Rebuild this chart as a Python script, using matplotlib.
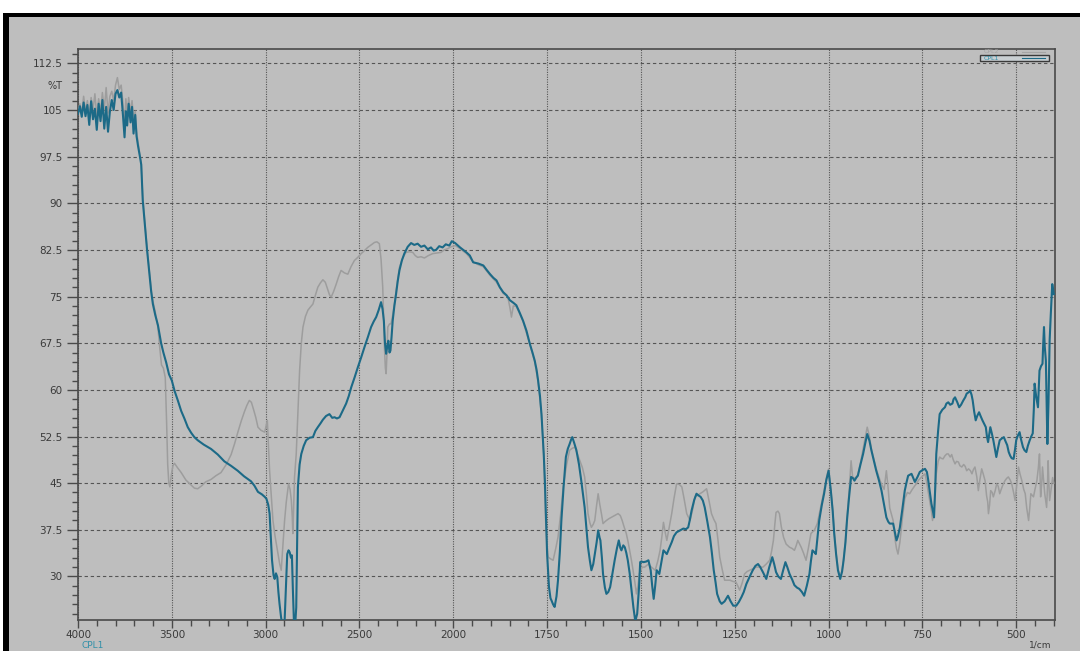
import numpy as np
import matplotlib
matplotlib.use("Agg")
import matplotlib.pyplot as plt
from matplotlib.patches import Rectangle
from matplotlib.lines import Line2D
from matplotlib.ticker import FixedLocator, FormatStrFormatter

# CPL1 (teal) spectrum: wavenumber (1/cm), %T
cpl1_wn = [4000, 3990, 3980, 3970, 3960, 3950, 3940, 3930, 3920, 3910, 3900, 3890, 3880, 3870, 3860,
           3850, 3840, 3830, 3820, 3810, 3800, 3790, 3780, 3770, 3760, 3752, 3745, 3738, 3730, 3720,
           3712, 3704, 3695, 3688, 3680, 3670, 3663, 3655, 3645, 3632, 3619, 3610, 3601, 3588, 3574,
           3557, 3545, 3530, 3515, 3500, 3485, 3468, 3450, 3433, 3415, 3397, 3380, 3362, 3330, 3291,
           3255, 3220, 3185, 3149, 3115, 3078, 3060, 3041, 3020, 3005, 2996, 2986, 2979, 2972, 2966,
           2958, 2952, 2945, 2938, 2932, 2926, 2918, 2913, 2905, 2899, 2892, 2885, 2878, 2872, 2865,
           2860, 2855, 2849, 2842, 2837, 2832, 2828, 2819, 2810, 2797, 2784, 2766, 2748, 2735, 2722,
           2708, 2695, 2678, 2660, 2645, 2633, 2620, 2606, 2590, 2571, 2557, 2544, 2526, 2509, 2490,
           2473, 2455, 2438, 2424, 2411, 2398, 2385, 2377, 2370, 2364, 2358, 2352, 2346, 2340, 2335,
           2329, 2323, 2314, 2305, 2296, 2287, 2274, 2261, 2243, 2225, 2208, 2190, 2172, 2154, 2136,
           2119, 2105, 2092, 2075, 2057, 2040, 2021, 2008, 1995, 1982, 1965, 1956, 1947, 1933, 1920,
           1910, 1902, 1893, 1885, 1876, 1867, 1858, 1849, 1840, 1832, 1823, 1814, 1805, 1796, 1789,
           1783, 1778, 1774, 1769, 1765, 1762, 1759, 1756, 1754, 1752, 1750, 1745, 1741, 1738, 1734,
           1730, 1725, 1721, 1716, 1712, 1706, 1700, 1695, 1690, 1686, 1683, 1678, 1672, 1665, 1659,
           1654, 1650, 1645, 1641, 1636, 1632, 1627, 1623, 1618, 1614, 1610, 1608, 1604, 1601, 1596,
           1592, 1587, 1582, 1576, 1570, 1564, 1559, 1555, 1552, 1547, 1543, 1539, 1535, 1530, 1526,
           1520, 1515, 1510, 1505, 1502, 1499, 1493, 1486, 1480, 1474, 1470, 1466, 1462, 1458, 1451,
           1445, 1440, 1431, 1425, 1418, 1412, 1405, 1396, 1387, 1380, 1374, 1370, 1365, 1358, 1352,
           1346, 1341, 1335, 1330, 1323, 1316, 1311, 1306, 1301, 1297, 1290, 1285, 1277, 1268, 1261,
           1254, 1246, 1239, 1232, 1226, 1219, 1210, 1202, 1195, 1188, 1182, 1175, 1166, 1158, 1150,
           1145, 1140, 1134, 1127, 1121, 1115, 1110, 1104, 1097, 1091, 1084, 1078, 1071, 1065, 1058,
           1051, 1047, 1043, 1038, 1034, 1030, 1025, 1018, 1012, 1006, 1000, 994, 989, 985, 980,
           975, 969, 964, 960, 955, 951, 945, 940, 935, 931, 926, 922, 915, 908, 902,
           897, 891, 886, 880, 873, 866, 859, 852, 846, 841, 837, 828, 823, 819, 815,
           810, 803, 797, 792, 788, 779, 774, 770, 763, 757, 750, 743, 738, 735, 730,
           726, 722, 719, 716, 713, 708, 704, 697, 690, 686, 681, 676, 670, 667, 663,
           657, 652, 647, 641, 636, 632, 627, 623, 619, 616, 612, 608, 604, 599, 595,
           590, 585, 581, 578, 575, 572, 569, 565, 561, 557, 553, 549, 544, 538, 533,
           529, 524, 520, 516, 512, 507, 503, 500, 496, 491, 487, 482, 478, 473, 469,
           464, 460, 456, 453, 451, 447, 442, 440, 438, 434, 430, 428, 426, 424, 421,
           419, 417, 414, 411, 408, 404, 400]
cpl1_t = [104.4, 105.6, 103.9, 106.2, 104.0, 105.8, 102.6, 106.4, 103.5, 105.2, 101.8, 106.0, 103.2, 106.6, 102.0,
          105.5, 101.5, 104.8, 106.6, 105.0, 107.6, 108.2, 107.0, 107.8, 104.0, 100.6, 104.8, 102.5, 106.0, 103.0,
          105.5, 101.2, 104.2, 100.8, 99.2, 97.5, 96.2, 90.5, 87.1, 82.5, 78.5, 75.8, 73.8, 72.0, 70.4,
          67.5, 66.0, 64.4, 62.5, 61.5, 59.8, 58.3, 56.6, 55.4, 54.0, 53.1, 52.4, 51.9, 51.2, 50.5,
          49.6, 48.5, 47.8, 47.0, 46.1, 45.3, 44.6, 43.6, 43.2, 42.8, 42.5, 41.5, 40.1, 36.0, 32.6,
          30.2, 29.6, 30.5, 29.9, 27.5, 25.6, 23.5, 22.5, 22.5, 22.8, 28.0, 33.6, 34.2, 33.9, 33.0,
          33.4, 28.0, 22.5, 22.5, 25.0, 36.0, 44.4, 48.0, 49.7, 51.0, 51.9, 52.3, 52.4, 53.4, 54.0,
          54.6, 55.2, 55.8, 56.1, 55.5, 55.6, 55.4, 55.6, 56.6, 57.8, 59.0, 60.4, 62.0, 63.6, 65.3,
          66.9, 68.5, 70.1, 71.0, 71.7, 72.8, 74.1, 73.0, 71.1, 67.5, 65.8, 67.0, 67.9, 66.0, 66.3,
          68.5, 71.1, 73.5, 75.4, 77.5, 79.2, 80.8, 81.9, 83.0, 83.6, 83.3, 83.5, 83.0, 83.2, 82.6,
          82.9, 82.4, 82.5, 83.1, 82.9, 83.4, 83.2, 83.9, 83.6, 82.9, 82.1, 81.6, 80.5, 80.3, 80.0,
          79.2, 78.6, 78.0, 77.6, 76.5, 75.7, 75.2, 74.4, 74.0, 73.6, 72.4, 71.1, 69.5, 67.4, 66.0,
          64.7, 63.2, 61.5, 59.0, 56.1, 53.0, 49.7, 45.5, 41.7, 37.5, 33.6, 28.3, 26.5, 26.1, 25.5,
          25.1, 26.8, 29.4, 34.0, 39.0, 44.5, 49.2, 50.5, 51.3, 52.0, 52.4, 51.5, 50.3, 48.0, 45.4,
          43.0, 41.1, 37.5, 34.7, 32.5, 31.0, 32.0, 33.6, 35.5, 37.4, 36.2, 35.8, 33.0, 30.4, 28.2,
          27.2, 27.5, 28.3, 30.5, 32.6, 34.5, 35.8, 34.6, 34.2, 35.0, 34.7, 33.8, 32.6, 30.5, 28.3,
          25.0, 22.8, 24.0, 28.3, 32.3, 32.4, 32.3, 32.4, 32.6, 31.0, 28.5, 26.4, 28.5, 31.0, 30.4,
          32.5, 34.2, 33.6, 34.5, 35.5, 36.5, 37.1, 37.4, 37.7, 37.6, 37.9, 39.0, 40.6, 42.3, 43.3,
          43.0, 42.8, 42.2, 41.1, 38.8, 36.3, 33.8, 31.0, 29.0, 27.2, 26.0, 25.6, 26.0, 26.9, 26.0,
          25.3, 25.3, 25.9, 26.7, 27.5, 28.8, 30.0, 31.0, 31.7, 32.0, 31.5, 30.7, 29.6, 31.5, 33.1,
          32.0, 30.7, 30.0, 29.6, 31.0, 32.3, 31.5, 30.4, 29.5, 28.6, 28.2, 28.0, 27.5, 26.9, 28.5,
          30.4, 32.5, 34.2, 33.9, 33.6, 36.0, 39.0, 41.5, 43.3, 45.5, 47.0, 43.8, 40.5, 36.9, 33.6,
          31.0, 29.6, 30.8, 32.6, 35.5, 39.0, 43.0, 46.0, 45.8, 45.4, 45.9, 46.2, 48.0, 49.7, 51.5,
          52.9, 51.8, 50.3, 48.8, 47.0, 45.5, 43.8, 41.5, 39.5, 38.8, 38.5, 38.5, 37.0, 35.8, 36.5,
          37.9, 41.0, 43.8, 45.2, 46.2, 46.5, 45.8, 45.2, 46.0, 46.8, 47.1, 47.3, 46.8, 45.7, 43.5,
          41.7, 40.5, 39.5, 44.0, 49.7, 53.5, 56.1, 56.8, 57.2, 57.8, 58.0, 57.6, 57.8, 58.5, 58.8,
          58.0, 57.2, 57.6, 58.3, 58.8, 59.4, 59.6, 59.9, 59.2, 58.3, 56.5, 55.1, 55.8, 56.4, 55.8,
          55.1, 54.5, 54.0, 52.5, 51.6, 52.8, 54.0, 53.0, 51.9, 50.5, 49.2, 50.5, 51.9, 52.2, 52.4,
          51.8, 51.1, 50.0, 49.4, 49.0, 48.9, 50.5, 51.9, 52.6, 53.2, 52.0, 50.8, 50.3, 50.0, 51.0,
          51.9, 52.5, 53.0, 57.0, 61.0, 59.0, 57.2, 60.0, 63.1, 63.8, 64.2, 67.5, 70.1, 67.0, 64.7,
          58.0, 51.3, 58.0, 67.9, 72.0, 77.0, 75.4]

# CPL2 (gray) spectrum
cpl2_wn = [4000, 3990, 3980, 3970, 3960, 3950, 3940, 3930, 3920, 3910, 3900, 3890, 3880, 3870, 3860,
           3850, 3840, 3830, 3820, 3810, 3800, 3790, 3780, 3770, 3760, 3752, 3745, 3738, 3730, 3720,
           3712, 3704, 3695, 3688, 3680, 3670, 3663, 3655, 3645, 3632, 3619, 3610, 3601, 3588, 3574,
           3565, 3555, 3545, 3535, 3528, 3522, 3516, 3510, 3502, 3494, 3486, 3470, 3450, 3425, 3397,
           3380, 3362, 3340, 3320, 3291, 3265, 3238, 3210, 3184, 3166, 3149, 3130, 3113, 3100, 3087,
           3076, 3064, 3052, 3041, 3025, 3005, 2991, 2985, 2979, 2970, 2961, 2950, 2934, 2925, 2917,
           2908, 2899, 2890, 2878, 2870, 2863, 2858, 2855, 2850, 2846, 2837, 2828, 2819, 2810, 2801,
           2788, 2775, 2762, 2748, 2735, 2722, 2708, 2695, 2682, 2668, 2660, 2651, 2638, 2624, 2611,
           2598, 2580, 2562, 2545, 2527, 2509, 2491, 2473, 2456, 2438, 2420, 2407, 2394, 2385, 2376,
           2371, 2367, 2362, 2358, 2353, 2349, 2340, 2332, 2323, 2314, 2300, 2287, 2270, 2252, 2234,
           2216, 2203, 2190, 2172, 2154, 2132, 2110, 2088, 2066, 2048, 2030, 2012, 1995, 1982, 1965,
           1947, 1933, 1920, 1902, 1885, 1867, 1855, 1849, 1845, 1840, 1832, 1814, 1796, 1783, 1774,
           1765, 1759, 1754, 1750, 1747, 1740, 1734, 1727, 1721, 1714, 1707, 1698, 1690, 1683, 1676,
           1670, 1663, 1656, 1650, 1645, 1641, 1636, 1632, 1627, 1623, 1618, 1614, 1610, 1605, 1601,
           1596, 1592, 1585, 1579, 1570, 1561, 1555, 1550, 1545, 1539, 1534, 1530, 1525, 1521, 1516,
           1512, 1508, 1504, 1497, 1490, 1480, 1472, 1462, 1455, 1449, 1444, 1440, 1435, 1431, 1425,
           1418, 1412, 1405, 1398, 1391, 1385, 1378, 1373, 1369, 1362, 1356, 1350, 1343, 1335, 1325,
           1318, 1312, 1306, 1300, 1295, 1290, 1283, 1277, 1270, 1263, 1255, 1247, 1242, 1237, 1230,
           1224, 1217, 1210, 1200, 1193, 1184, 1175, 1166, 1157, 1152, 1147, 1143, 1140, 1135, 1131,
           1126, 1120, 1113, 1104, 1097, 1091, 1086, 1082, 1078, 1073, 1067, 1060, 1054, 1047, 1042,
           1038, 1030, 1025, 1018, 1012, 1006, 1000, 994, 989, 985, 980, 975, 969, 964, 960,
           955, 951, 945, 940, 936, 931, 926, 922, 915, 908, 902, 897, 891, 886, 880,
           873, 866, 859, 852, 846, 841, 837, 828, 823, 819, 815, 810, 803, 797, 790,
           784, 777, 770, 766, 760, 752, 743, 738, 735, 730, 726, 723, 719, 716, 713,
           708, 704, 700, 695, 690, 685, 681, 676, 672, 668, 663, 659, 654, 650, 645,
           640, 636, 632, 627, 622, 618, 614, 610, 605, 601, 597, 592, 588, 583, 579,
           576, 574, 571, 568, 564, 561, 556, 552, 548, 544, 540, 535, 530, 525, 521,
           516, 512, 507, 503, 499, 494, 490, 485, 480, 476, 472, 467, 464, 461, 457,
           454, 450, 445, 441, 438, 436, 435, 432, 430, 427, 424, 421, 419, 417, 415,
           413, 411, 407, 403, 400]
cpl2_t = [104.6, 106.0, 104.5, 107.2, 104.8, 106.5, 103.8, 107.0, 105.0, 107.6, 104.0, 106.8, 104.6, 107.8, 105.0,
          108.6, 104.5, 107.2, 108.0, 106.5, 109.0, 110.2, 108.3, 109.0, 106.0, 102.2, 106.8, 104.0, 107.0, 104.5,
          106.5, 103.5, 104.8, 101.5, 99.8, 97.8, 96.5, 91.0, 87.5, 82.8, 79.0, 76.2, 74.3, 72.5, 70.0,
          67.0, 64.0, 63.5, 62.0, 55.0, 48.0, 45.0, 44.4, 46.5, 47.8, 48.2, 47.5, 46.7, 45.5, 44.7,
          44.2, 44.1, 44.6, 45.2, 45.6, 46.2, 46.7, 48.0, 49.6, 51.3, 53.1, 55.0, 56.5, 57.5, 58.3,
          58.0, 56.8, 55.5, 54.0, 53.5, 53.2, 55.1, 51.0, 47.0, 43.0, 39.0, 36.5, 33.6, 32.0, 31.0,
          35.0, 39.0, 42.0, 44.9, 44.0, 42.2, 39.5, 36.9, 42.0, 46.0, 49.7, 56.5, 63.1, 67.5, 70.1,
          71.8, 72.8, 73.3, 73.8, 75.2, 76.5, 77.2, 77.7, 77.3, 76.0, 75.3, 74.9, 75.8, 77.0, 78.2,
          79.2, 78.8, 78.6, 79.8, 80.8, 81.3, 81.9, 82.4, 82.9, 83.3, 83.7, 83.8, 83.5, 81.0, 76.5,
          71.5, 66.9, 63.5, 62.6, 66.0, 70.1, 70.6, 70.6, 72.0, 73.8, 77.0, 79.7, 81.2, 82.1, 82.2,
          82.1, 81.6, 81.3, 81.4, 81.2, 81.6, 81.9, 82.0, 82.1, 82.5, 82.7, 83.0, 83.2, 82.7, 81.9,
          80.6, 80.1, 79.8, 78.4, 77.3, 75.5, 75.0, 73.2, 71.7, 73.5, 73.4, 71.0, 67.3, 64.5, 61.3,
          56.0, 49.5, 39.0, 35.0, 33.1, 32.8, 32.6, 34.5, 36.3, 40.0, 44.4, 48.0, 50.3, 50.6, 50.8,
          49.8, 48.6, 47.5, 46.0, 43.0, 40.1, 38.6, 37.9, 38.4, 39.0, 41.5, 43.3, 41.7, 40.0, 38.5,
          38.8, 39.0, 39.3, 39.5, 39.8, 40.1, 39.8, 39.0, 38.0, 36.9, 35.5, 34.2, 32.5, 31.0, 29.0,
          27.2, 28.5, 30.5, 31.5, 31.5, 32.0, 31.5, 31.0, 32.5, 34.2, 36.5, 38.7, 37.0, 35.8, 37.8,
          40.1, 42.5, 44.9, 44.8, 44.4, 42.5, 40.1, 39.5, 39.0, 40.8, 42.8, 43.0, 43.3, 43.6, 44.1,
          42.0, 40.1, 39.2, 38.5, 36.0, 33.1, 31.0, 29.4, 29.4, 29.4, 29.2, 29.1, 28.5, 27.8, 29.0,
          30.4, 30.8, 31.0, 31.3, 31.5, 31.5, 31.5, 32.0, 32.6, 34.0, 35.8, 38.5, 40.3, 40.5, 40.1,
          38.0, 36.3, 35.2, 34.7, 34.5, 34.2, 35.0, 35.8, 35.3, 34.7, 33.8, 32.6, 34.5, 36.9, 37.2,
          37.4, 38.5, 40.0, 42.0, 43.8, 45.8, 47.3, 44.0, 40.8, 37.2, 33.8, 31.2, 29.8, 31.0, 32.8,
          35.8, 39.2, 44.0, 48.6, 46.0, 45.8, 46.0, 46.4, 48.3, 50.5, 52.5, 54.0, 52.5, 50.5, 49.0,
          47.3, 46.0, 44.8, 44.0, 47.0, 44.0, 41.0, 39.0, 36.0, 34.5, 33.6, 35.5, 39.5, 42.5, 43.5,
          43.3, 44.0, 44.6, 44.9, 45.5, 46.0, 46.5, 45.0, 43.8, 42.0, 40.5, 39.0, 40.5, 43.5, 46.5,
          48.5, 49.2, 49.0, 48.9, 49.4, 49.7, 49.7, 49.2, 49.6, 48.8, 48.1, 48.5, 48.4, 47.8, 47.6,
          48.0, 47.7, 47.0, 47.3, 47.0, 46.5, 47.2, 47.6, 46.0, 43.8, 45.5, 47.3, 46.5, 45.4, 43.0,
          42.0, 40.1, 41.5, 43.8, 43.5, 42.8, 43.8, 44.9, 44.5, 43.3, 44.0, 44.8, 45.4, 45.8, 46.0,
          45.5, 44.9, 43.5, 42.2, 44.5, 47.6, 46.5, 45.4, 44.0, 43.3, 41.0, 39.0, 41.0, 43.3, 43.0,
          42.8, 44.0, 45.4, 47.5, 49.7, 45.0, 42.8, 45.0, 47.6, 45.5, 43.3, 42.0, 41.1, 44.0, 48.6,
          45.0, 42.2, 44.0, 45.9, 45.0]

x_major = [4000, 3500, 3000, 2500, 2000, 1750, 1500, 1250, 1000, 750, 500]
y_major = [30, 37.5, 45, 52.5, 60, 67.5, 75, 82.5, 90, 97.5, 105, 112.5]

teal = "#1c6a87"
grey_line = "#9d9d9d"
bg = "#bebebe"
axis_col = "#4a4a4a"


# spectrometer x axis: half scale above 2000 1/cm
def fwd(w):
    w = np.asarray(w, dtype=float)
    return np.where(w > 2000, 2000 + (w - 2000) / 2.0, w)


def inv(u):
    u = np.asarray(u, dtype=float)
    return np.where(u > 2000, 2000 + (u - 2000) * 2.0, u)


W, H = 1080, 651
fig = plt.figure(figsize=(10.8, 6.51), dpi=100, facecolor="white")

# screenshot frame: black edge on top and left, gray panel
fig.patches.append(Rectangle((3 / W, 0), 1, (H - 13) / H, transform=fig.transFigure,
                             facecolor="black", edgecolor="none", zorder=-20))
fig.patches.append(Rectangle((9 / W, 0), 1, (H - 17) / H, transform=fig.transFigure,
                             facecolor=bg, edgecolor="none", zorder=-19))

ax = fig.add_axes([78 / W, 31 / H, (1054.5 - 78) / W, (620 - 49) / H])
ax.set_facecolor(bg)
ax.set_xscale("function", functions=(fwd, inv))
ax.set_xlim(4000, 398)
ax.set_ylim(23.0, 114.8)

ax.plot(cpl2_wn, cpl2_t, color=grey_line, lw=1.1, zorder=3)
ax.plot(cpl1_wn, cpl1_t, color=teal, lw=1.5, zorder=4)

x_minor = list(range(3900, 2000, -100)) + list(range(1950, 399, -50))
ax.xaxis.set_major_locator(FixedLocator(x_major))
ax.xaxis.set_minor_locator(FixedLocator(x_minor))
ax.yaxis.set_major_locator(FixedLocator(y_major))
ax.yaxis.set_minor_locator(FixedLocator(list(np.arange(22.5, 115, 1.5))))
ax.xaxis.set_major_formatter(FormatStrFormatter("%d"))
ax.yaxis.set_major_formatter(FormatStrFormatter("%g"))

ax.grid(True, axis="x", which="major", color="#555555", lw=0.8, linestyle=(0, (1, 1.2)))
ax.grid(True, axis="y", which="major", color="#555555", lw=0.8, linestyle=(0, (3, 2.5)))
ax.set_axisbelow(True)

for s in ax.spines.values():
    s.set_color(axis_col)
    s.set_linewidth(1.2)

ax.tick_params(which="major", direction="out", width=1, color=axis_col,
               labelsize=7.5, labelcolor="#3a3a3a")
ax.tick_params(axis="y", which="major", length=8, pad=3)
ax.tick_params(axis="x", which="major", length=6, pad=1)
ax.tick_params(which="minor", direction="out", length=4, width=1, color=axis_col)

fig.text(62 / W, 1 - 86 / H, "%T", ha="right", va="center", fontsize=7, color="#3a3a3a")
fig.text(82 / W, 1 - 645 / H, "CPL1", ha="left", va="center", fontsize=6.5, color="#2f8fa8")
fig.text(1040 / W, 1 - 645 / H, "1/cm", ha="center", va="center", fontsize=6.5, color="#3a3a3a")

# small legend box in the top-right corner
fig.patches.append(Rectangle((980 / W, 1 - 61 / H), 69 / W, 6 / H, transform=fig.transFigure,
                             facecolor="#c9cfd2", edgecolor="#3a3a3a", lw=1.0, zorder=5))
fig.text(984 / W, 1 - 58 / H, "CPL1", ha="left", va="center", fontsize=4.5, color="#2f8fa8", zorder=6)
fig.lines.append(Line2D([1022 / W, 1045 / W], [1 - 58 / H, 1 - 58 / H], transform=fig.transFigure,
                        color=teal, lw=0.8, zorder=6))
fig.text(984 / W, 1 - 51.5 / H, "CPL2", ha="left", va="center", fontsize=4.5, color="#a5a5a5", zorder=6)
fig.lines.append(Line2D([1022 / W, 1045 / W], [1 - 51.5 / H, 1 - 51.5 / H], transform=fig.transFigure,
                        color="#a5a5a5", lw=0.8, zorder=6))

fig.savefig("out.png", dpi=100, facecolor=fig.get_facecolor())
